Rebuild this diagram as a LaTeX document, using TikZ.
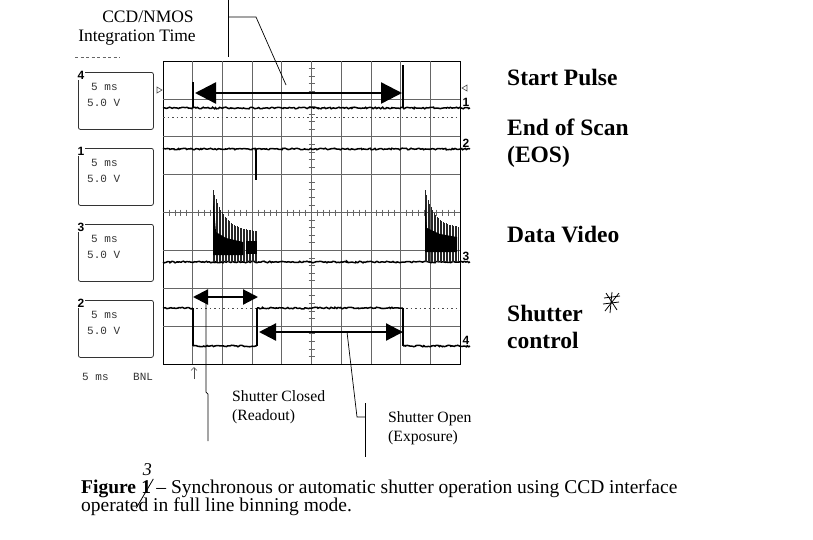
\documentclass[tikz,border=0pt]{standalone}
\usepackage{fontspec}
\setmainfont{Liberation Serif}
\setsansfont{Liberation Sans}
\setmonofont{Liberation Mono}
\usepackage{tikz}
\usetikzlibrary{arrows.meta,positioning,calc,decorations.pathmorphing}

\begin{document}
\begin{tikzpicture}[x=1pt,y=-1pt,
  graticule/.style={black!60, line width=0.7pt},
  trace/.style={line width=1.5pt, decorate, decoration={random steps,segment length=1.5pt,amplitude=0.8pt}},
  sigline/.style={line width=1.1pt},
  dotline/.style={black!70, line width=0.8pt, dash pattern=on 1.5pt off 3pt},
  burst/.style={black!85, line width=0.8pt},
  spanarrow/.style={line width=2.4pt, {Triangle[length=#1,width=#1]}-{Triangle[length=#1,width=#1]}},
  spanarrow/.default=18pt,
  callout/.style={line width=0.7pt},
  pen/.style={line width=0.8pt},
  chbox/.style={draw, black!80, rounded corners=2pt, line width=0.8pt, minimum width=75pt, minimum height=57pt, inner sep=0pt},
  chnum/.style={font=\sffamily\bfseries\fontsize{12}{12}\selectfont, inner sep=0.5pt},
  scopetxt/.style={font=\ttfamily\fontsize{11}{11}\selectfont, black!80, inner sep=0pt},
  chname/.style={font=\fontsize{23.5}{27}\selectfont\bfseries, align=left, anchor=west, inner sep=0pt},
  calltext/.style={font=\fontsize{15.7}{19}\selectfont, align=left, inner sep=0pt},
  capt/.style={font=\fontsize{19.5}{20}\selectfont, inner sep=0pt}]
\pgfmathsetseed{7}
\useasboundingbox (0,0) rectangle (813,539);

\draw[black, line width=0.9pt] (163,61) rectangle (460,364);
\foreach \c in {1,...,9}
  \draw[graticule] ({163+29.7*\c},61) -- ({163+29.7*\c},364);
\foreach \r in {1,...,7}
  \draw[graticule] (163,{61+37.875*\r}) -- (460,{61+37.875*\r});
\foreach \t in {1,...,49}
  \draw[graticule] ({163+5.94*\t},209.5) -- ({163+5.94*\t},215.5);
\foreach \t in {1,...,39}
  \draw[graticule] (308.5,{61+7.575*\t}) -- (314.5,{61+7.575*\t});

\foreach \n/\y in {4/72, 1/148, 3/224, 2/300} {
  \node[chbox, anchor=north west] (box\n) at (78,\y) {};
  \node[chnum, fill=white] (boxnum\n) at ($(box\n.north west)+(3,3)$) {\n};
  \node[scopetxt, anchor=west] (boxtime\n) at ($(box\n.north west)+(13,15)$) {5 ms};
  \node[scopetxt, anchor=west] (boxvolt\n) at ($(box\n.north west)+(9,31)$) {5.0 V};
}
\node[scopetxt, anchor=west] (basetime) at (82,377) {5 ms};
\node[scopetxt, anchor=west] (basetag) at (133,377) {BNL};
\draw[black!60, line width=0.7pt, dash pattern=on 3pt off 2.5pt] (75,57) -- (120,57);

\draw[trace] (163,108) -- (470,108);
\draw[sigline] (193,108) -- (193,82);
\draw[sigline] (403,108) -- (403,65);
\draw[dotline] (163,117) -- (460,117);
\draw[trace] (163,149) -- (470,149);
\draw[sigline] (256,149) -- (256,180);
\draw[trace] (163,262) -- (470,262);
\foreach \i in {0,...,29}
  \draw[burst] ({213+1.5*\i},262) -- ({213+1.5*\i},{262-30-42*exp(-1.5*\i/12)});
\fill (213,198) -- (216,232) -- (226,238) -- (243,242) -- (243,255) -- (213,255) -- cycle;
\fill (246,241) rectangle (257,254);
\foreach \i in {0,...,22}
  \draw[burst] ({425+1.5*\i},262) -- ({425+1.5*\i},{262-34-38*exp(-1.5*\i/10)});
\fill (425,205) -- (427,228) -- (440,234) -- (457,237) -- (457,252) -- (425,252) -- cycle;
\draw[trace] (163,308) -- (193,308);
\draw[sigline] (193,308) -- (193,346);
\draw[trace] (193,346) -- (257,346);
\draw[sigline] (257,346) -- (257,308);
\draw[trace] (257,308) -- (403,308);
\draw[sigline] (403,308) -- (403,346);
\draw[trace] (403,346) -- (470,346);
\draw[dotline] (196,308) -- (257,308);
\draw[dotline] (406,308) -- (460,308);

\node[chnum, anchor=south west] (trace1) at (462,107) {1};
\node[chnum, anchor=south west] (trace2) at (462,148) {2};
\node[chnum, anchor=south west] (trace3) at (462,261) {3};
\node[chnum, anchor=south west] (trace4) at (462,345) {4};
\draw[black!70, line width=0.6pt] (157,87) -- (162,90) -- (157,93) -- cycle;
\draw[black!70, line width=0.6pt] (467,85) -- (462,88) -- (467,91) -- cycle;
\coordinate (trigfoot) at (194,379);
\coordinate (trighead) at (194,367);
\draw[black!70, line width=0.6pt, -{Straight Barb[length=3pt]}] (trigfoot) -- (trighead);

\coordinate (integL) at (195,93);
\coordinate (integR) at (402,93);
\draw[spanarrow=21pt] (integL) -- (integR);
\coordinate (closedL) at (193,297);
\coordinate (closedR) at (258,297);
\draw[spanarrow=15pt, line width=2.2pt] (closedL) -- (closedR);
\coordinate (openL) at (259,332);
\coordinate (openR) at (403,332);
\draw[spanarrow=17pt, line width=2.2pt] (openL) -- (openR);

\node[calltext, font=\fontsize{17.5}{21}\selectfont] (ccdname) at (148,17) {CCD/NMOS};
\node[calltext, font=\fontsize{17.5}{21}\selectfont] (integname) at (137,38) {Integration Time};
\coordinate (ccdtop) at (228,0);
\coordinate (ccdfoot) at (228,57);
\coordinate (ccdknee) at (228,17);
\coordinate (ccdbend) at (256,17);
\coordinate (ccdtip) at (286,85);
\draw[callout] (ccdtop) -- (ccdfoot);
\draw[callout] (ccdknee) -- (ccdbend) -- (ccdtip);

\node[calltext, anchor=west] (closedtext) at (232,407.5) {Shutter Closed\\(Readout)};
\coordinate (closedtip) at (206,297);
\coordinate (closedjog) at (206,392);
\coordinate (closedend) at (208,441);
\draw[callout] (closedtip) -- (closedjog) -- (208,394) -- (closedend);

\node[calltext, anchor=west] (opentext) at (388,428) {Shutter Open\\(Exposure)};
\coordinate (opentip) at (347,332);
\coordinate (openbend) at (357,417);
\coordinate (openknee) at (365,417);
\coordinate (opentop) at (365,403);
\coordinate (openend) at (365,457);
\draw[callout] (opentip) -- (openbend) -- (openknee);
\draw[callout] (opentop) -- (openend);

\node[chname] (lblstart) at (507,77) {Start Pulse};
\node[chname] (lbleos) at (507,143.5) {End of Scan\\(EOS)};
\node[chname] (lblvideo) at (507,235) {Data Video};
\node[chname] (lblshutter) at (507,327) {Shutter\\control};
\draw[pen] (612,292) -- (610,313);
\draw[pen] (604,298) -- (620,296);
\draw[pen] (603,304) -- (619,302);
\draw[pen] (605,311) -- (619,293);
\draw[pen] (606,293) -- (617,310);

\node[capt, anchor=base west, font=\fontsize{19.5}{20}\selectfont\bfseries] (figword) at (81,493) {Figure};
\node[capt, base right=4.9pt of figword, font=\fontsize{19.5}{20}\selectfont\bfseries] (fignum) {1};
\node[capt, base right=4.9pt of fignum] (capA) {– Synchronous or automatic shutter operation using CCD interface};
\node[capt, anchor=base west] (capB) at (81,511) {operated in full line binning mode.};
\node[capt, above=4pt of fignum, xshift=1pt, font=\fontsize{18}{18}\selectfont\itshape] (fixnum) {3};
\draw[pen] ($(fignum.north east)+(2,-1)$) -- ($(fignum.south west)+(-5,15)$);
\end{tikzpicture}
\end{document}
